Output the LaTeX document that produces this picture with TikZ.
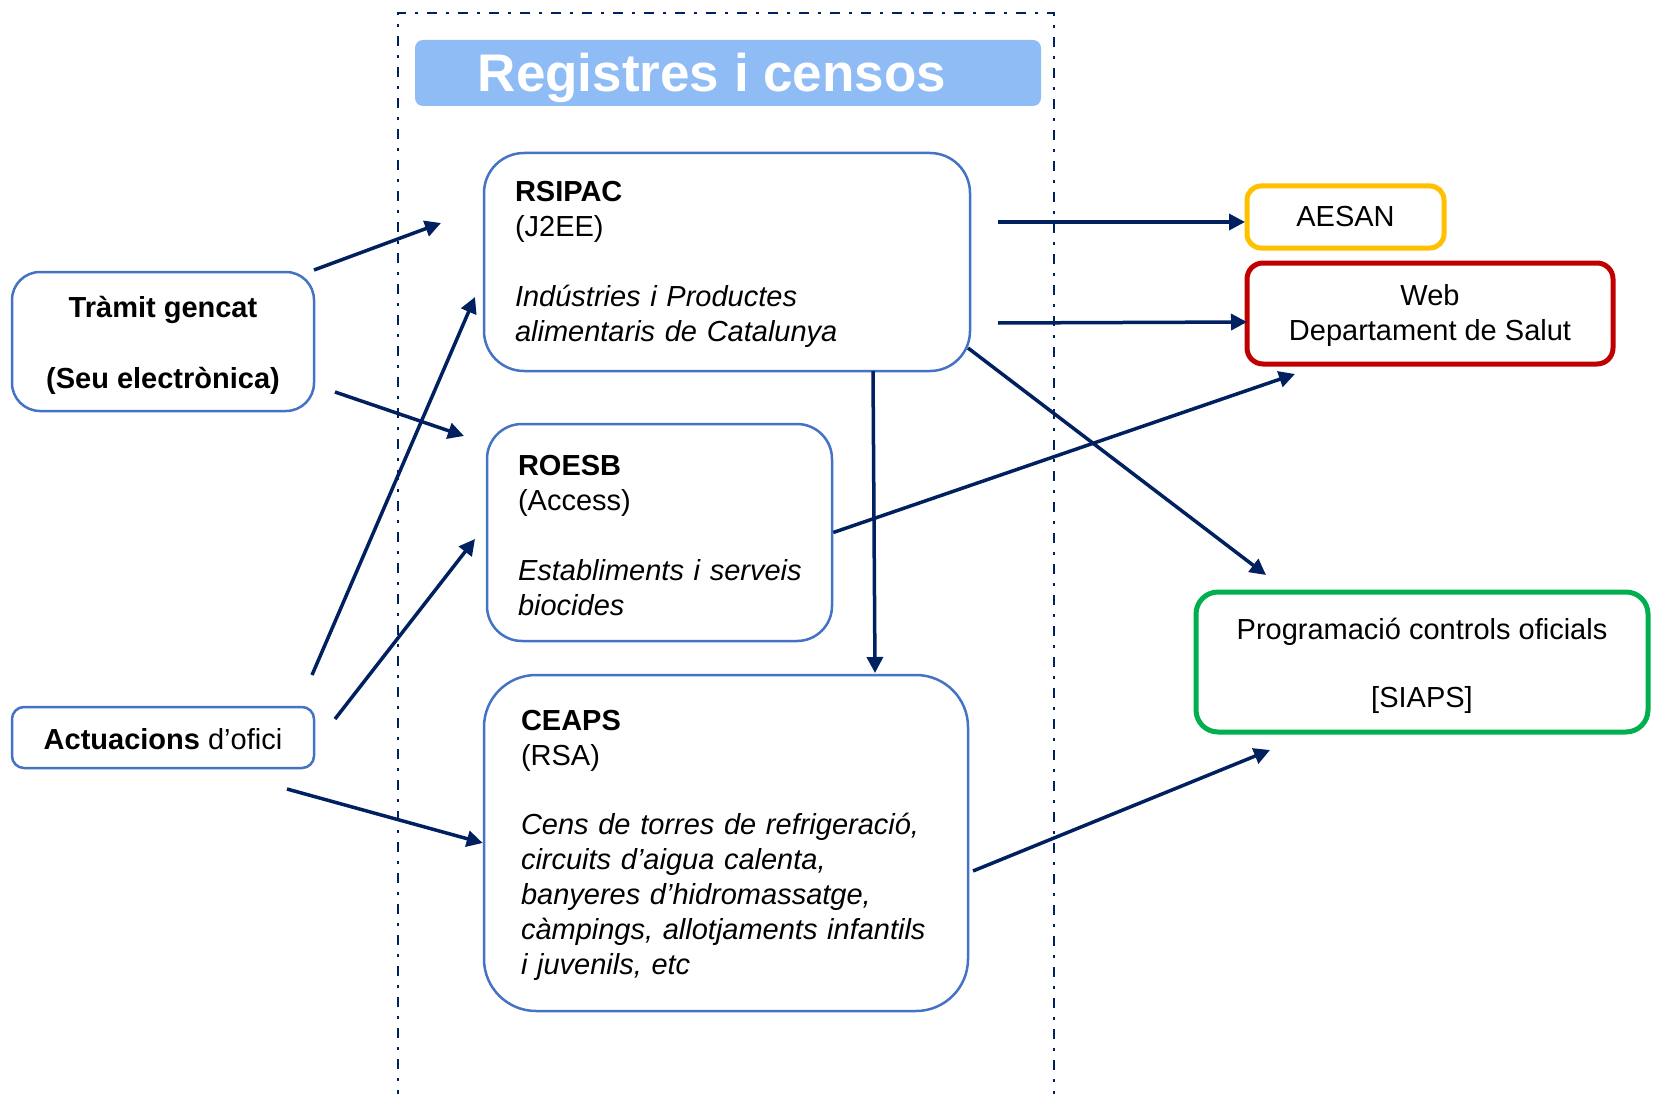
\documentclass[tikz,border=0pt]{standalone}
\usepackage{fontspec}
\setmainfont{Liberation Sans}
\usetikzlibrary{arrows.meta}
\definecolor{navy}{RGB}{0,32,96}
\definecolor{boxblue}{RGB}{68,114,196}
\definecolor{titlefill}{RGB}{143,188,245}
\definecolor{aesanorange}{RGB}{255,192,0}
\definecolor{webred}{RGB}{192,0,0}
\definecolor{siapsgreen}{RGB}{0,176,80}
\newcommand{\toppad}[1]{\rule{0pt}{#1}}
\begin{document}
\begin{tikzpicture}[x=1pt,y=-1pt,
  txt/.style={font=\fontsize{29}{35}\selectfont},
  blbox/.style={draw=boxblue, line width=2.5pt, fill=white, inner ysep=0pt, txt},
  colbox/.style={line width=5pt, fill=white, inner sep=0pt, align=center, txt},
  conn/.style={draw=navy, line width=3.5pt, -{Triangle[length=16pt,width=16pt]}},
  frame/.style={draw=navy, line width=2.5pt, dash pattern=on 10pt off 9pt on 3pt off 9pt}
]
\useasboundingbox (0,0) rectangle (1654,1094);

% dash-dot frame
\draw[frame] (398,1100) -- (398,13) -- (1054,13) -- (1054,1100);

% title
\node[fill=titlefill, rounded corners=8pt, minimum width=626pt, minimum height=66pt, inner sep=0pt] (title) at (728,73) {};
\node[anchor=base, text=white, font=\fontsize{53}{63}\selectfont\bfseries, inner sep=0pt] (titletext) at (712,92) {Registres i censos};

% left boxes
\node[blbox, rounded corners=28pt, minimum width=302pt, minimum height=139pt, inner xsep=0pt, align=center] (tramit) at (163,341.5)
  {\toppad{30pt}\textbf{Tràmit gencat}\\[36pt]\textbf{(Seu electrònica)}};
\node[blbox, rounded corners=12pt, minimum width=302pt, minimum height=61pt, inner xsep=0pt, align=center] (actuacions) at (163,737.5)
  {\toppad{25pt}\textbf{Actuacions} d’ofici};

% central boxes
\node[blbox, rounded corners=40pt, minimum height=218pt, inner xsep=31pt, text width=424pt, align=left] (rsipac) at (727,262)
  {\toppad{26pt}\textbf{RSIPAC}\\(J2EE)\\[35pt]\textit{Indústries i Productes}\\\textit{alimentaris de Catalunya}};
\node[blbox, rounded corners=35pt, minimum height=217pt, inner xsep=31pt, text width=283pt, align=left] (roesb) at (659.5,532.5)
  {\toppad{26pt}\textbf{ROESB}\\(Access)\\[35pt]\mbox{\textit{Establiments i serveis}}\\\textit{biocides}};
\node[blbox, rounded corners=52pt, minimum height=336pt, inner xsep=37pt, text width=410pt, align=left] (ceaps) at (726,843)
  {\toppad{26pt}\textbf{CEAPS}\\(RSA)\\[34pt]\textit{Cens de torres de refrigeració,}\\\textit{circuits d’aigua calenta,}\\\textit{banyeres d’hidromassatge,}\\\mbox{\textit{càmpings, allotjaments infantils}}\\\textit{i juvenils, etc}};

% right boxes
\node[colbox, draw=aesanorange, rounded corners=14pt, minimum width=197pt, minimum height=62pt] (aesan) at (1345.5,217) {AESAN};
\node[colbox, draw=webred, rounded corners=16pt, minimum width=366pt, minimum height=101pt] (web) at (1430,313.5) {\toppad{26pt}Web\\Departament de Salut};
\node[colbox, draw=siapsgreen, rounded corners=22pt, minimum width=452pt, minimum height=140pt] (siaps) at (1422,662) {\toppad{30pt}Programació controls oficials\\[33pt][SIAPS]};

% connector free ends
\coordinate (t1) at (314,270);  \coordinate (r1) at (441,223);
\coordinate (t2) at (335,392);  \coordinate (r2) at (464,436);
\coordinate (a1) at (312,675);  \coordinate (r3) at (475,297);
\coordinate (a2) at (335,719);  \coordinate (r4) at (475,539);
\coordinate (a3) at (287,789);
\coordinate (s1) at (998,222);  \coordinate (e1) at (1245,222);
\coordinate (s2) at (998,323);  \coordinate (e2) at (1247,322);
\coordinate (s3) at (873,371);  \coordinate (e3) at (875,673);
\coordinate (s4) at (968,348);  \coordinate (e4) at (1266,575);
\coordinate (e5) at (1295,374);
\coordinate (s6) at (973,871);  \coordinate (e6) at (1270,750);

% connectors
\draw[conn] (t1) -- (r1);
\draw[conn] (t2) -- (r2);
\draw[conn] (a1) -- (r3);
\draw[conn] (a2) -- (r4);
\draw[conn] (a3) -- (ceaps.west);
\draw[conn] (s1) -- (e1);
\draw[conn] (s2) -- (e2);
\draw[conn] (s3) -- (e3);
\draw[conn] (s4) -- (e4);
\draw[conn] (roesb.east) -- (e5);
\draw[conn] (s6) -- (e6);
\end{tikzpicture}
\end{document}
